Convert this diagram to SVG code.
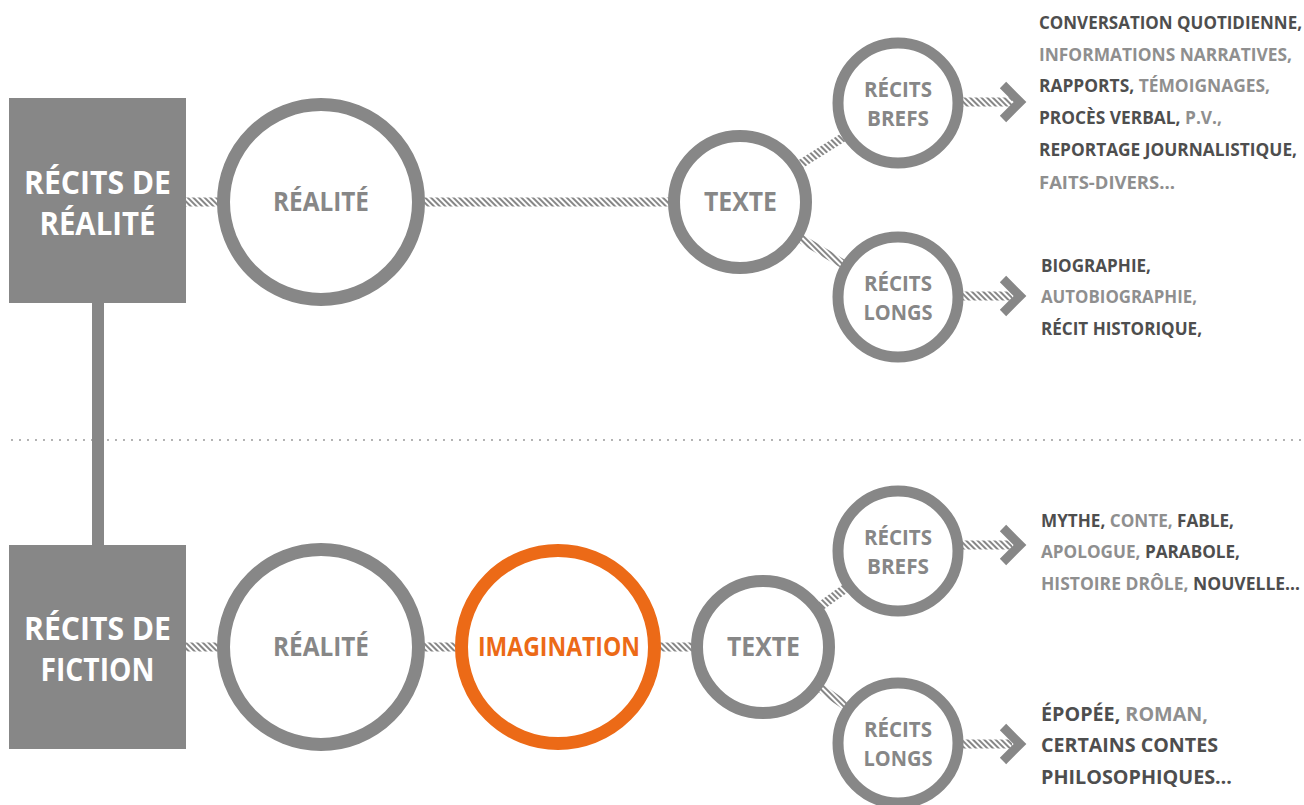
<svg xmlns="http://www.w3.org/2000/svg" width="1304" height="805" viewBox="0 0 1304 805">
<style>
.box{fill:#878787}
.ring{fill:#fff;stroke:#878787}
.big{stroke-width:13}
.mid{stroke-width:12}
.sm{stroke-width:11}
.orange{fill:#fff;stroke:#ec6a17;stroke-width:13}
.bt{font-family:"Open Sans","Liberation Sans",sans-serif;font-weight:700;fill:#fff;font-size:33px;text-anchor:middle}
.ct{font-family:"Open Sans","Liberation Sans",sans-serif;font-weight:700;fill:#878787;font-size:26px;text-anchor:middle}
.cs{font-family:"Open Sans","Liberation Sans",sans-serif;font-weight:700;fill:#878787;font-size:22px;text-anchor:middle}
.ot{fill:#ec6a17}
.lt{font-family:"Open Sans","Liberation Sans",sans-serif;font-weight:700;font-size:17px}
.lt4{font-family:"Open Sans","Liberation Sans",sans-serif;font-weight:700;font-size:19px}
.d{fill:#4e4e4e}
.l{fill:#8f8f8f}
.hatch{fill:none;stroke:url(#h);stroke-width:9}
.chev{fill:none;stroke:#878787;stroke-width:9;stroke-linejoin:miter;stroke-miterlimit:10}
</style>
<defs>
<pattern id="h" width="4" height="4" patternUnits="userSpaceOnUse" patternTransform="rotate(-45)">
<rect width="2" height="4" fill="#878787"/>
</pattern>
</defs>
<line x1="12" y1="440" x2="1304" y2="440" stroke="#9a9a9a" stroke-width="2" stroke-dasharray="0 8" stroke-linecap="round"/>
<g id="connectors">
<rect x="92" y="300" width="12" height="248" fill="#878787"/>
<line class="hatch" x1="186" y1="202" x2="321" y2="202"/>
<line class="hatch" x1="321" y1="202" x2="740" y2="202"/>
<line class="hatch" x1="740" y1="202" x2="898" y2="103"/>
<line class="hatch" x1="740" y1="202" x2="898" y2="297"/>
<line class="hatch" x1="898" y1="102" x2="1012" y2="102"/>
<line class="hatch" x1="898" y1="296" x2="1012" y2="296"/>
<polyline class="chev" points="1003,85 1020,102 1003,119"/>
<polyline class="chev" points="1003,279 1020,296 1003,313"/>
<line class="hatch" x1="186" y1="647" x2="321" y2="647"/>
<line class="hatch" x1="321" y1="647" x2="763" y2="647"/>
<line class="hatch" x1="763" y1="647" x2="898" y2="551"/>
<line class="hatch" x1="763" y1="647" x2="898" y2="743"/>
<line class="hatch" x1="898" y1="545" x2="1012" y2="545"/>
<line class="hatch" x1="898" y1="744" x2="1012" y2="744"/>
<polyline class="chev" points="1003,528 1020,545 1003,562"/>
<polyline class="chev" points="1003,727 1020,744 1003,761"/>
</g>
<g id="box-realite">
<rect class="box" x="9" y="98" width="177" height="205"/>
<text class="bt" x="97.5" y="194" textLength="147" lengthAdjust="spacingAndGlyphs">RÉCITS DE</text>
<text class="bt" x="97.5" y="235" textLength="116" lengthAdjust="spacingAndGlyphs">RÉALITÉ</text>
</g>
<g id="box-fiction">
<rect class="box" x="9" y="545" width="177" height="204"/>
<text class="bt" x="97.5" y="640" textLength="147" lengthAdjust="spacingAndGlyphs">RÉCITS DE</text>
<text class="bt" x="97.5" y="681" textLength="114" lengthAdjust="spacingAndGlyphs">FICTION</text>
</g>
<g id="realite-top">
<circle class="ring big" cx="321" cy="202" r="97.5"/>
<text class="ct" x="321" y="211" textLength="96" lengthAdjust="spacingAndGlyphs">RÉALITÉ</text>
</g>
<g id="texte-top">
<circle class="ring mid" cx="740" cy="202" r="66"/>
<text class="ct" x="740.5" y="211" textLength="73" lengthAdjust="spacingAndGlyphs">TEXTE</text>
</g>
<g id="brefs-top">
<circle class="ring sm" cx="898" cy="103" r="60"/>
<text class="cs" x="898" y="97" textLength="68" lengthAdjust="spacingAndGlyphs">RÉCITS</text>
<text class="cs" x="898" y="126" textLength="62" lengthAdjust="spacingAndGlyphs">BREFS</text>
</g>
<g id="longs-top">
<circle class="ring sm" cx="898" cy="297" r="60"/>
<text class="cs" x="898" y="291" textLength="68" lengthAdjust="spacingAndGlyphs">RÉCITS</text>
<text class="cs" x="898" y="320" textLength="69" lengthAdjust="spacingAndGlyphs">LONGS</text>
</g>
<g id="realite-bottom">
<circle class="ring big" cx="321" cy="647" r="97.5"/>
<text class="ct" x="321" y="656" textLength="96" lengthAdjust="spacingAndGlyphs">RÉALITÉ</text>
</g>
<g id="imagination">
<circle class="orange" cx="558" cy="647" r="96.5"/>
<text class="ct ot" x="559" y="656" textLength="162" lengthAdjust="spacingAndGlyphs">IMAGINATION</text>
</g>
<g id="texte-bottom">
<circle class="ring mid" cx="763" cy="647" r="66"/>
<text class="ct" x="763.5" y="656" textLength="73" lengthAdjust="spacingAndGlyphs">TEXTE</text>
</g>
<g id="brefs-bottom">
<circle class="ring sm" cx="898" cy="551" r="60"/>
<text class="cs" x="898" y="545" textLength="68" lengthAdjust="spacingAndGlyphs">RÉCITS</text>
<text class="cs" x="898" y="574" textLength="62" lengthAdjust="spacingAndGlyphs">BREFS</text>
</g>
<g id="longs-bottom">
<circle class="ring sm" cx="898" cy="743" r="60"/>
<text class="cs" x="898" y="737" textLength="68" lengthAdjust="spacingAndGlyphs">RÉCITS</text>
<text class="cs" x="898" y="766" textLength="69" lengthAdjust="spacingAndGlyphs">LONGS</text>
</g>
<g id="list-reel-brefs">
<text class="lt d" x="1039" y="29" textLength="263" lengthAdjust="spacingAndGlyphs">CONVERSATION QUOTIDIENNE,</text>
<text class="lt l" x="1039" y="61" textLength="253" lengthAdjust="spacingAndGlyphs">INFORMATIONS NARRATIVES,</text>
<text class="lt" x="1039" y="92" textLength="231" lengthAdjust="spacingAndGlyphs"><tspan class="d">RAPPORTS,</tspan><tspan class="l"> TÉMOIGNAGES,</tspan></text>
<text class="lt" x="1039" y="124" textLength="183" lengthAdjust="spacingAndGlyphs"><tspan class="d">PROCÈS VERBAL,</tspan><tspan class="l"> P.V.,</tspan></text>
<text class="lt d" x="1039" y="156" textLength="258" lengthAdjust="spacingAndGlyphs">REPORTAGE JOURNALISTIQUE,</text>
<text class="lt l" x="1039" y="189" textLength="136" lengthAdjust="spacingAndGlyphs">FAITS-DIVERS…</text>
</g>
<g id="list-reel-longs">
<text class="lt d" x="1041" y="272" textLength="110" lengthAdjust="spacingAndGlyphs">BIOGRAPHIE,</text>
<text class="lt l" x="1041" y="303" textLength="156" lengthAdjust="spacingAndGlyphs">AUTOBIOGRAPHIE,</text>
<text class="lt d" x="1041" y="335" textLength="161" lengthAdjust="spacingAndGlyphs">RÉCIT HISTORIQUE,</text>
</g>
<g id="list-fiction-brefs">
<text class="lt" x="1041" y="527" textLength="193" lengthAdjust="spacingAndGlyphs"><tspan class="d">MYTHE,</tspan><tspan class="l"> CONTE,</tspan><tspan class="d"> FABLE,</tspan></text>
<text class="lt" x="1041" y="558" textLength="199" lengthAdjust="spacingAndGlyphs"><tspan class="l">APOLOGUE,</tspan><tspan class="d"> PARABOLE,</tspan></text>
<text class="lt" x="1041" y="590" textLength="259" lengthAdjust="spacingAndGlyphs"><tspan class="l">HISTOIRE DRÔLE,</tspan><tspan class="d"> NOUVELLE…</tspan></text>
</g>
<g id="list-fiction-longs">
<text class="lt4" x="1041" y="721" textLength="167" lengthAdjust="spacingAndGlyphs"><tspan class="d">ÉPOPÉE,</tspan><tspan class="l"> ROMAN,</tspan></text>
<text class="lt4 d" x="1041" y="752" textLength="177" lengthAdjust="spacingAndGlyphs">CERTAINS CONTES</text>
<text class="lt4 d" x="1041" y="784" textLength="191" lengthAdjust="spacingAndGlyphs">PHILOSOPHIQUES…</text>
</g>
</svg>
